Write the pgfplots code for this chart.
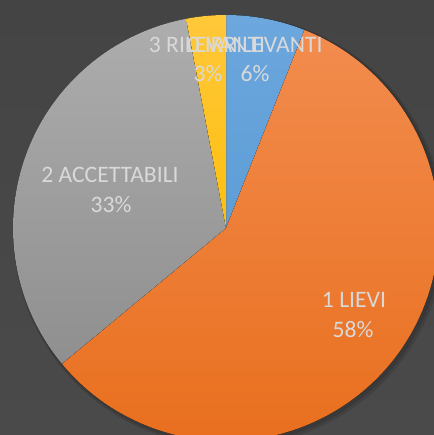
\documentclass[border=0pt]{standalone}
\usepackage{pgfplots}
\pgfplotsset{compat=1.18}
\usepackage{pgfplotstable}
\usepackage{fontspec}
\setmainfont{Carlito}

\definecolor{bgtop}{HTML}{444444}
\definecolor{bgbot}{HTML}{4A4A4A}
\definecolor{lbl}{HTML}{D9D9D9}
\tikzset{
  slice0/.style={top color={HTML}{6DA8DF}, bottom color={HTML}{5B9BD5}},
}
\definecolor{blueT}{HTML}{6CA7DE}\definecolor{blueB}{HTML}{5E9DD6}
\definecolor{oranT}{HTML}{F28C4E}\definecolor{oranB}{HTML}{E86D1B}
\definecolor{grayT}{HTML}{ADADAD}\definecolor{grayB}{HTML}{8F8F8F}
\definecolor{yelT}{HTML}{FFC83A}\definecolor{yelB}{HTML}{FDBF0F}
\tikzset{
  slice0/.style={top color=blueT, bottom color=blueB},
  slice1/.style={top color=oranT, bottom color=oranB},
  slice2/.style={top color=grayT, bottom color=grayB},
  slice3/.style={top color=yelT, bottom color=yelB},
  lab/.style={text=lbl, anchor=base, font=\fontsize{23.6bp}{28bp}\selectfont, inner sep=0pt},
}

% share of each category (%)
\pgfplotstableread{
cat pct
0 6
1 58
2 33
3 3
}\piedata

\begin{document}
\begin{tikzpicture}
\begin{axis}[
    scale only axis,
    x=1bp, y=1bp,
    xmin=0, xmax=434, ymin=0, ymax=435,
    axis line style={draw=none},
    ticks=none,
    clip=true,
]
\fill[top color=bgtop, bottom color=bgbot] (axis cs:0,0) rectangle (axis cs:434,435);
% soft shadow
\fill[black, opacity=0.12] (axis cs:229,204) circle[radius=216bp];
\fill[black, opacity=0.12] (axis cs:228,205) circle[radius=214.5bp];

\pgfplotstablegetrowsof{\piedata}
\pgfmathtruncatemacro\nrows{\pgfplotsretval-1}
\def\cum{0}
\pgfplotsforeachungrouped \i in {0,...,\nrows}{
  \pgfplotstablegetelem{\i}{pct}\of\piedata
  \let\v\pgfplotsretval
  \pgfmathsetmacro\a{90-3.6*\cum}
  \pgfmathsetmacro\b{90-3.6*(\cum+\v)}
  \pgfmathsetmacro\cum{\cum+\v}
  \pgfmathsetmacro\sx{226+213*cos(\a)}
  \pgfmathsetmacro\sy{207+213*sin(\a)}
  \edef\temp{\noexpand\fill[slice\i] (axis cs:226,207) -- (axis cs:\sx,\sy)
     arc[start angle=\a, end angle=\b, radius=213bp] -- cycle;}
  \temp
}

\node[lab] at (axis cs:255,382) {0 IRRILEVANTI};
\node[lab] at (axis cs:255,353) {6\%};
\node[lab] at (axis cs:207,382) {3 RILEVANTI};
\node[lab] at (axis cs:208,353) {3\%};
\node[lab] at (axis cs:110,252) {2 ACCETTABILI};
\node[lab] at (axis cs:111,222) {33\%};
\node[lab] at (axis cs:354,127) {1 LIEVI};
\node[lab] at (axis cs:353,97) {58\%};
\end{axis}
\pgfresetboundingbox
\path[use as bounding box] (current axis.south west) rectangle (current axis.north east);
\end{tikzpicture}
\end{document}
